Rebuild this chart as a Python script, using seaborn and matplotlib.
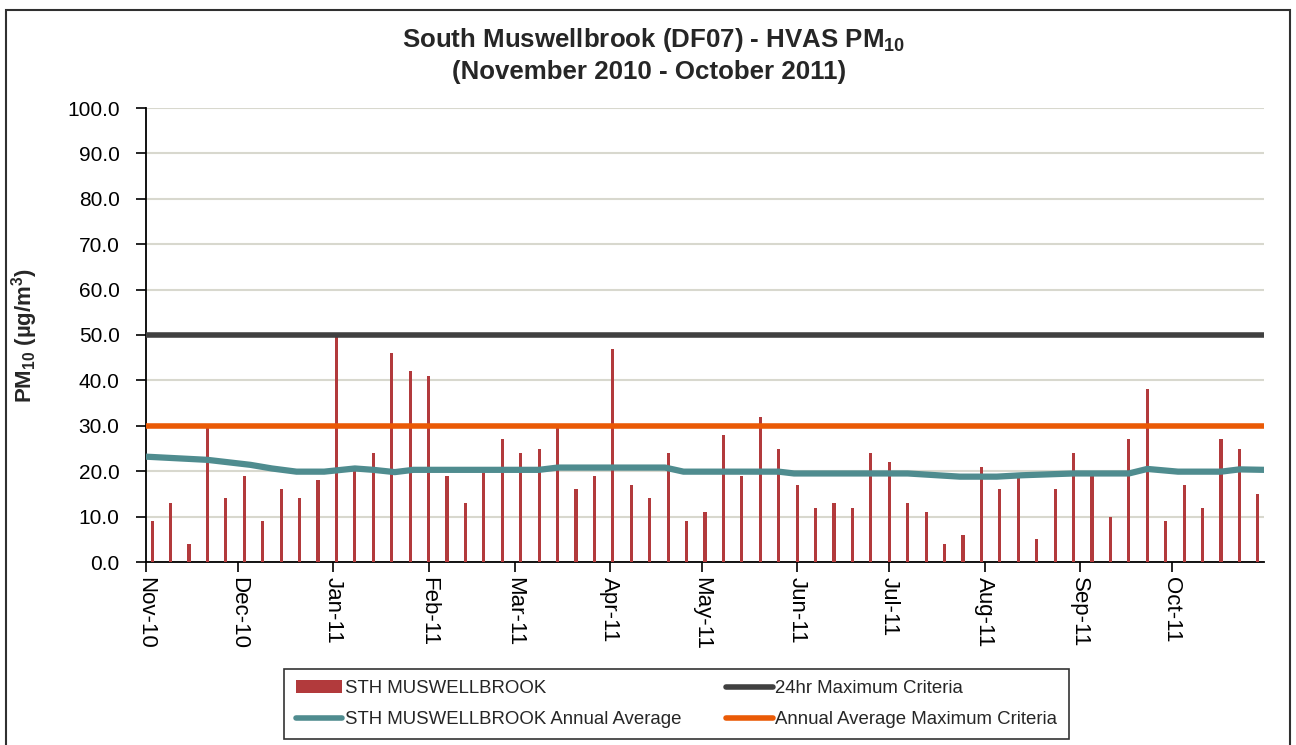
import matplotlib
matplotlib.use("Agg")
import matplotlib.pyplot as plt
import matplotlib.dates as mdates
from matplotlib.patches import Patch, Rectangle
from matplotlib.lines import Line2D
import pandas as pd
import seaborn as sns

sns.set_style("white")
plt.rcParams['font.family'] = ['Liberation Sans', 'DejaVu Sans']
plt.rcParams['mathtext.fontset'] = 'custom'
plt.rcParams['mathtext.rm'] = 'Liberation Sans'
plt.rcParams['mathtext.bf'] = 'Liberation Sans:bold'
plt.rcParams['mathtext.default'] = 'regular'

# HVAS runs one day in six, first run 3 Nov 2010
first_sample = '2010-11-03'
pm10 = [9, 13, 4, 30, 14, 19, 9, 16, 14, 18, 50, 20, 24, 46, 42, 41,
        19, 13, 21, 27, 24, 25, 30, 16, 19, 47, 17, 14, 24, 9, 11, 28,
        19, 32, 25, 17, 12, 13, 12, 24, 22, 13, 11, 4, 6, 21, 16,
        19, 5, 16, 24, 19, 10, 27, 38, 9, 17, 12, 27, 25, 15]

# rolling annual average
avg_dates = ['2010-11-01', '2010-11-21', '2010-12-05', '2010-12-12', '2010-12-20',
             '2010-12-29', '2011-01-08', '2011-01-14', '2011-01-21', '2011-01-27',
             '2011-03-09', '2011-03-15', '2011-04-19', '2011-04-25', '2011-05-26',
             '2011-05-31', '2011-07-07', '2011-07-24', '2011-08-05', '2011-08-13',
             '2011-08-30', '2011-09-17', '2011-09-23', '2011-10-03', '2011-10-17',
             '2011-10-23', '2011-10-31']
avg_vals = [23.2, 22.5, 21.4, 20.6, 19.9, 19.9, 20.6, 20.3, 19.8, 20.3,
            20.3, 20.8, 20.8, 19.9, 19.9, 19.5, 19.5, 18.8, 18.8, 19.1,
            19.5, 19.5, 20.5, 19.9, 19.9, 20.4, 20.3]

crit_24hr = 50.0
crit_annual = 30.0
period = ('2010-11-01', '2011-10-31')

bar_c = '#B23A3C'
avg_c = '#4F8C8F'
c24_c = '#404040'
ann_c = '#EA5A06'

df = pd.DataFrame({'date': pd.date_range(first_sample, periods=len(pm10), freq='6D'),
                   'pm10': pm10})
df['x'] = mdates.date2num(df['date'])
avg = pd.DataFrame({'x': mdates.date2num(pd.to_datetime(avg_dates)), 'pm10': avg_vals})

fig = plt.figure(figsize=(12.96, 7.45), dpi=100)
ax = fig.add_axes([146/1296, 1-562/745, (1264-146)/1296, (562-108)/745])

sns.barplot(data=df, x='x', y='pm10', native_scale=True, width=0.17, color=bar_c,
            saturation=1, errorbar=None, linewidth=0, ax=ax, zorder=3)
sns.lineplot(data=avg, x='x', y='pm10', color=avg_c, linewidth=4.5, ax=ax, zorder=4)
ax.axhline(crit_24hr, color=c24_c, linewidth=4, zorder=4)
ax.axhline(crit_annual, color=ann_c, linewidth=4, zorder=4)

x0, x1 = mdates.date2num(pd.to_datetime(list(period)))
ax.set_xlim(x0, x1)
ax.set_ylim(0, 100)
ax.set_yticks(range(0, 101, 10))
ax.set_yticklabels([f'{v:.1f}' for v in range(0, 101, 10)])
ax.yaxis.grid(True, color='#D8D8CE', linewidth=1.5, zorder=0)
ax.set_axisbelow(True)

ax.xaxis.set_major_locator(mdates.MonthLocator())
ax.xaxis.set_major_formatter(mdates.DateFormatter('%b-%y'))
for lab in ax.get_xticklabels():
    lab.set_rotation(270)
    lab.set_va('top')
    lab.set_ha('center')

ax.tick_params(axis='both', labelsize=15, colors='black', length=7, width=1.2,
               direction='out')
ax.tick_params(axis='x', labelsize=16)
ax.tick_params(axis='y', left=True, pad=12)
ax.tick_params(axis='x', bottom=True, pad=4)
for s in ['top', 'right']:
    ax.spines[s].set_visible(False)
for s in ['left', 'bottom']:
    ax.spines[s].set_color('black')
    ax.spines[s].set_linewidth(1.3)

ax.set_xlabel('')
ax.set_ylabel('PM$_{10}$ (µg/m$^{3}$)', fontsize=16, fontweight='bold')
ax.yaxis.set_label_coords(-0.095, 0.5)

fig.text(0.504, 1-40/745, 'South Muswellbrook (DF07) - HVAS PM$_{10}$',
         ha='center', va='center', fontsize=18.6, fontweight='bold')
fig.text(0.501, 1-72/745, '(November 2010 - October 2011)',
         ha='center', va='center', fontsize=18.6, fontweight='bold')

handles = [Patch(facecolor=bar_c, edgecolor='none'),
           Line2D([], [], color=avg_c, linewidth=4),
           Line2D([], [], color=c24_c, linewidth=4),
           Line2D([], [], color=ann_c, linewidth=4)]
labels = ['STH MUSWELLBROOK', 'STH MUSWELLBROOK Annual Average',
          '24hr Maximum Criteria', 'Annual Average Maximum Criteria']
leg = fig.legend(handles, labels, ncol=2, loc='center', bbox_to_anchor=(0.522, 0.055),
                 fontsize=13.4, frameon=True, fancybox=False, handlelength=2.5,
                 handletextpad=0.15, columnspacing=2.4, labelspacing=0.75,
                 borderpad=0.6)
leg.get_frame().set_edgecolor('black')
leg.get_frame().set_linewidth(1.2)

fig.patches.append(Rectangle((6/1296, -0.02), 1284/1296, 1-10/745+0.02,
                             transform=fig.transFigure, fill=False,
                             edgecolor='#303030', linewidth=1.5))

fig.savefig('out.png', dpi=100)
